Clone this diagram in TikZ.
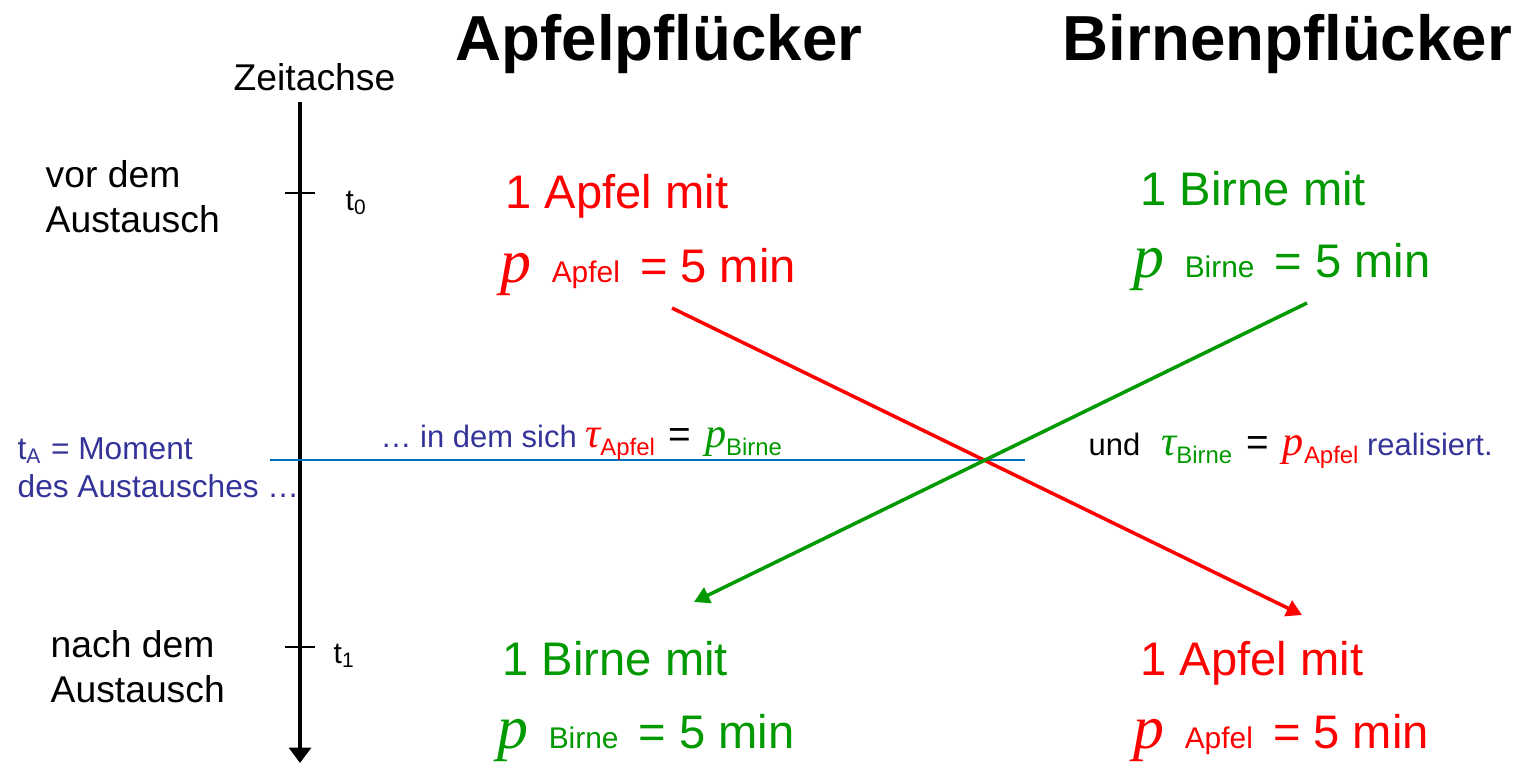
\documentclass[tikz,border=0pt]{standalone}
\usepackage{fontspec}
\setmainfont{Liberation Sans}
\newfontfamily\timesfam{Liberation Serif}
\usetikzlibrary{arrows.meta}
\definecolor{apfelred}{RGB}{255,0,0}
\definecolor{birnegreen}{RGB}{0,153,0}
\definecolor{textblue}{RGB}{51,51,153}
\definecolor{lineblue}{RGB}{0,112,192}
\newcommand{\bigp}{{\fontsize{17.6}{20}\timesfam\itshape p}\hspace{2pt}}
\newcommand{\smallword}[1]{{\fontsize{8.5}{10}\selectfont #1}\hspace{2pt}}
\newcommand{\lowsub}[1]{\raisebox{-2.3pt}{\fontsize{6.8}{8}\selectfont #1}}
\newcommand{\midvar}[1]{{\fontsize{12}{14}\timesfam\itshape #1}}
\newcommand{\mideq}{{\fontsize{11}{13}\selectfont =}}

\begin{document}
\begin{tikzpicture}[x=0.01cm, y=-0.01cm,
    every node/.style={inner sep=0pt, anchor=base west},
    title/.style={font=\fontsize{18.1}{21}\bfseries},
    label/.style={font=\fontsize{10.6}{12.6}\selectfont, align=left},
    fruit/.style={font=\fontsize{13.4}{16}\selectfont},
    note/.style={font=\fontsize{8.8}{10.5}\selectfont}]
    \useasboundingbox (0,0) rectangle (1516,763);
    % Titles
    \node[title] (apfeltitle) at (455,60) {Apfelpflücker};
    \node[title] (birnetitle) at (1062,60) {Birnenpflücker};
    % Time axis
    \node[label] (zeit) at (233,90) {Zeitachse};
    \coordinate (axtop) at (300,102);
    \coordinate (axbot) at (300,763);
    \draw[line width=1.4pt, -{Triangle[length=4.4pt,width=6.2pt]}] (axtop) -- (axbot);
    \foreach \y in {193, 647} {
        \draw[line width=0.5pt] (285,\y) -- (315,\y);
    }
    \node[font=\fontsize{8.5}{10}\selectfont] (tnull) at (345,210) {t\textsubscript{0}};
    \node[font=\fontsize{8.5}{10}\selectfont] (teins) at (333,663) {t\textsubscript{1}};
    \node[label] (vor) at (45,232) {vor dem\\Austausch};
    \node[label] (nach) at (50,702) {nach dem\\Austausch};
    % Before the exchange
    \node[fruit, apfelred] (apfelA) at (505,208) {1 Apfel mit};
    \node[fruit, apfelred] (apfelAp) at (500,282) {\bigp{} \smallword{Apfel} = 5 min};
    \node[fruit, birnegreen] (birneB) at (1140,205) {1 Birne mit};
    \node[fruit, birnegreen] (birneBp) at (1133,277) {\bigp{} \smallword{Birne} = 5 min};
    % After the exchange
    \node[fruit, birnegreen] (birneA) at (502,675) {1 Birne mit};
    \node[fruit, birnegreen] (birneAp) at (497,748) {\bigp{} \smallword{Birne} = 5 min};
    \node[fruit, apfelred] (apfelB) at (1140,675) {1 Apfel mit};
    \node[fruit, apfelred] (apfelBp) at (1133,748) {\bigp{} \smallword{Apfel} = 5 min};
    % Moment of exchange
    \coordinate (tleft) at (270,460);
    \coordinate (tright) at (1025,460);
    \draw[lineblue, line width=0.5pt] (tleft) -- (tright);
    \node[label, textblue, font=\fontsize{9}{10.6}\selectfont] (moment) at (17,497)
        {t\textsubscript{A} = Moment\\des Austausches \dots};
    \node[note, textblue] (insich) at (380,447)
        {\dots{} in dem sich {\color{apfelred}\midvar{τ}\lowsub{Apfel}}\, {\color{black}\mideq}\, {\color{birnegreen}\midvar{p}\lowsub{Birne}}};
    \node[note] (und) at (1088,455)
        {und\hspace{3.5pt} {\color{birnegreen}\midvar{τ}\lowsub{Birne}}\hspace{4pt}\mideq\hspace{4pt}{\color{apfelred}\midvar{p}\lowsub{Apfel}} {\color{textblue}realisiert.}};
    % Exchange arrows
    \coordinate (apfelgo) at (672,308);
    \coordinate (apfelend) at (1302,615);
    \coordinate (birnego) at (1307,303);
    \coordinate (birneend) at (694,602);
    \draw[apfelred, line width=1pt, -{Triangle[length=4.4pt,width=4.8pt]}] (apfelgo) -- (apfelend);
    \draw[birnegreen, line width=1pt, -{Triangle[length=4.4pt,width=4.8pt]}] (birnego) -- (birneend);
\end{tikzpicture}
\end{document}
